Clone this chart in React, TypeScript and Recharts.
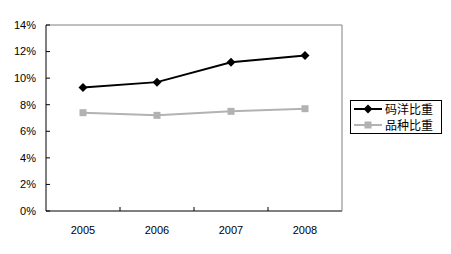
import { LineChart, Line, XAxis, YAxis, ReferenceLine } from "recharts"

const years = ["2005", "2006", "2007", "2008"]
const maYang = [0.093, 0.097, 0.112, 0.117]
const pinZhong = [0.074, 0.072, 0.075, 0.077]
const yTicks = [0, 0.02, 0.04, 0.06, 0.08, 0.1, 0.12, 0.14]
const seriesNames = ["码洋比重", "品种比重"]

const W = 451
const H = 254
const plotLeft = 46
const plotRight = 342
const plotTop = 25
const plotBottom = 211
const band = (plotRight - plotLeft) / years.length
const font = "'Liberation Sans', Arial, sans-serif"
const cjk = "'Noto Sans CJK SC', sans-serif"
const grey = "#b2b2b2"

const data = years.map((y, i) => ({ year: y, a: maYang[i], b: pinZhong[i] }))

function Diamond(p: any) {
    const { cx, cy } = p
    if (cx == null) return null
    return <polygon key={p.index} points={`${cx},${cy - 4.5} ${cx + 4.5},${cy} ${cx},${cy + 4.5} ${cx - 4.5},${cy}`} fill="#000" />
}

function Square(p: any) {
    const { cx, cy } = p
    if (cx == null) return null
    return <rect key={p.index} x={cx - 3.5} y={cy - 3.5} width={7} height={7} fill={grey} />
}

function YearTick(p: any) {
    const { x, index, payload } = p
    return (
        <g>
            {index < years.length - 1 && <line x1={x + band / 2} x2={x + band / 2} y1={plotBottom} y2={plotBottom - 4} stroke="#000" />}
            <text x={x} y={plotBottom + 23} textAnchor="middle" fontSize={11} fontFamily={font} fill="#000">{payload.value}</text>
        </g>
    )
}

export default function App() {
    return (
        <div style={{ position: "absolute", left: 0, top: 0, width: W, height: H, background: "#fff" }}>
            <LineChart width={W} height={H} data={data}
                margin={{ top: plotTop, right: W - plotRight - 1, bottom: 0, left: 0 }}>
                <XAxis dataKey="year" scale="band" height={H - plotBottom} axisLine={{ stroke: "#000" }} tickLine={false}
                    tickSize={0} tickMargin={0} tick={<YearTick />} interval={0} />
                <YAxis yAxisId="l" width={plotLeft} domain={[0, 0.14]} ticks={yTicks} axisLine={{ stroke: "#000" }}
                    tickLine={{ stroke: "#000" }} tickSize={-4} tickMargin={14}
                    tickFormatter={(v: number) => `${Math.round(v * 100)}%`}
                    tick={{ fontSize: 11, fontFamily: font, fill: "#000" }} />
                <YAxis yAxisId="r" orientation="right" width={1} axisLine={{ stroke: "#808080" }} tick={false} tickLine={false} />
                <ReferenceLine yAxisId="l" y={0.14} stroke="#808080" />
                <Line yAxisId="l" dataKey="b" stroke={grey} strokeWidth={2} dot={<Square />} isAnimationActive={false} />
                <Line yAxisId="l" dataKey="a" stroke="#000" strokeWidth={2} dot={<Diamond />} isAnimationActive={false} />
            </LineChart>
            <div style={{ position: "absolute", left: 350, top: 100, width: 90, height: 32, border: "1px solid #000", background: "#fff" }}>
                {seriesNames.map((n, i) => (
                    <div key={n} style={{ position: "absolute", left: 2, top: 1 + i * 16, height: 14, display: "flex", alignItems: "center" }}>
                        <svg width={32} height={14}>
                            <line x1={1} x2={29} y1={7} y2={7} stroke={i === 0 ? "#000" : grey} strokeWidth={2} />
                            {i === 0
                                ? <polygon points="15,2.5 19.5,7 15,11.5 10.5,7" fill="#000" />
                                : <rect x={11.5} y={3.5} width={7} height={7} fill={grey} />}
                        </svg>
                        <span style={{ fontFamily: cjk, fontSize: 12, lineHeight: "14px", color: "#000", whiteSpace: "nowrap" }}>{n}</span>
                    </div>
                ))}
            </div>
        </div>
    )
}
